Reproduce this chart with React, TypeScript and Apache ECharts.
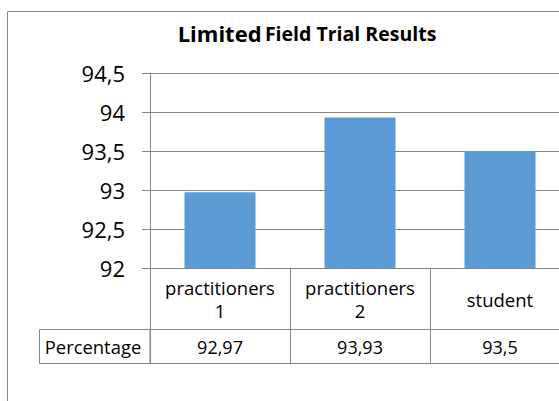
import React, { useEffect, useRef } from "react";
import * as echarts from "echarts";

const categories = ["practitioners\n1", "practitioners\n2", "student"];
const values = [92.97, 93.93, 93.5];
const seriesName = "Percentage";
const yMin = 92;
const yMax = 94.5;
const yStep = 0.5;

const fmt = (v: number) => String(v).replace(".", ",");
const FONT = "Open Sans";
const GRAY = "#868686";

export default function App() {
  const ref = useRef<HTMLDivElement>(null);
  useEffect(() => {
    if (!ref.current) return;
    const chart = echarts.init(ref.current, undefined, { renderer: "svg" });
    chart.setOption({
      animation: false,
      textStyle: { fontFamily: FONT },
      grid: { left: 150, top: 73, width: 420, height: 195, containLabel: false },
      graphic: [
        {
          type: "rect",
          z: -10,
          shape: { x: 7.5, y: 11.5, width: 700, height: 500 },
          style: { fill: "#fff", stroke: "#8c8c8c", lineWidth: 1 },
          silent: true,
        },
        {
          type: "text",
          x: 307,
          y: 33,
          style: {
            text: "{a|Limited} {b|Field Trial Results}",
            align: "center",
            verticalAlign: "middle",
            rich: {
              a: { fontFamily: FONT, fontWeight: "bold", fontSize: 22, fill: "#000", color: "#000" },
              b: { fontFamily: FONT, fontWeight: "bold", fontSize: 19.5, fill: "#000", color: "#000" },
            },
          },
        },
        {
          type: "rect",
          shape: { x: 39.5, y: 329.5, width: 110.5, height: 34 },
          style: { fill: "none", stroke: GRAY, lineWidth: 1 },
        },
        {
          type: "text",
          x: 93,
          y: 346.5,
          style: {
            text: seriesName,
            align: "center",
            verticalAlign: "middle",
            fontFamily: FONT,
            fontSize: 18.4,
            fill: "#000",
          },
        },
      ],
      xAxis: [
        {
          type: "category",
          data: categories,
          position: "bottom",
          axisLine: { show: true, lineStyle: { color: GRAY, width: 1 } },
          axisTick: { show: true, length: 95.5, interval: 0, alignWithLabel: false, lineStyle: { color: GRAY } },
          axisLabel: {
            interval: 0,
            verticalAlign: "middle",
            margin: 31,
            lineHeight: 23,
            fontSize: 18.5,
            color: "#000",
            fontFamily: FONT,
          },
        },
        {
          type: "category",
          data: values.map(fmt),
          position: "bottom",
          offset: 61,
          axisLine: { show: true, lineStyle: { color: GRAY, width: 1 } },
          axisTick: { show: false },
          axisLabel: {
            interval: 0,
            verticalAlign: "middle",
            margin: 17.5,
            fontSize: 18,
            color: "#000",
            fontFamily: FONT,
          },
        },
        {
          type: "category",
          data: categories,
          position: "bottom",
          offset: 95.5,
          axisLine: { show: true, lineStyle: { color: GRAY, width: 1 } },
          axisTick: { show: false },
          axisLabel: { show: false },
        },
      ],
      yAxis: {
        type: "value",
        min: yMin,
        max: yMax,
        interval: yStep,
        axisLine: { show: true, lineStyle: { color: GRAY, width: 1 } },
        axisTick: { show: true, length: 8, lineStyle: { color: GRAY } },
        splitLine: { show: true, lineStyle: { color: GRAY, width: 1 } },
        axisLabel: {
          formatter: (v: number) => fmt(v),
          fontSize: 22,
          margin: 25,
          color: "#000",
          fontFamily: FONT,
        },
      },
      series: [
        {
          name: seriesName,
          type: "bar",
          data: values,
          barWidth: 71,
          itemStyle: { color: "#5B9BD5" },
          xAxisIndex: 0,
        },
      ],
    });
    return () => chart.dispose();
  }, []);
  return (
    <div style={{ width: 559, height: 401, overflow: "hidden", position: "absolute", left: 0, top: 0 }}>
      <div ref={ref} style={{ width: 640, height: 401 }} />
    </div>
  );
}
